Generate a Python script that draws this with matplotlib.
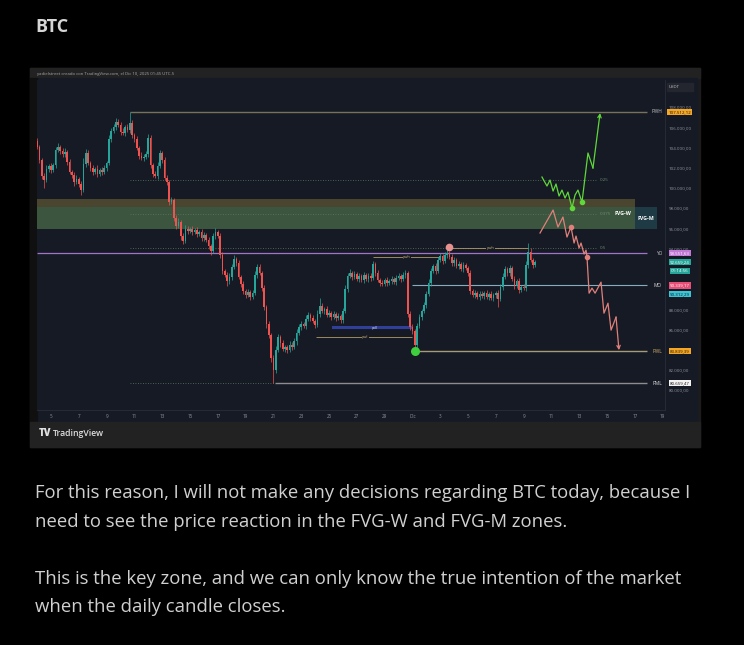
import numpy as np
import matplotlib
matplotlib.use('Agg')
import matplotlib.pyplot as plt
from matplotlib.patches import Rectangle

plt.rcParams['font.family'] = ['Open Sans', 'DejaVu Sans']

# ---- candle data: 4h candles from Nov 4, prices in thousands of USDT ----
first_open = 104.6
closes = [
    104.0, 102.8, 101.2, 100.8, 101.9, 102.2,   # Nov 4
    101.8, 102.3, 103.7, 104.0, 103.6, 103.3,   # Nov 5
    103.5, 102.6, 101.6, 101.3, 100.6, 100.9,   # Nov 6
    100.4, 99.8, 102.4, 103.4, 102.5, 102.0,    # Nov 7
    101.6, 101.9, 101.4, 101.8, 101.6, 102.0,   # Nov 8
    102.5, 104.8, 105.6, 106.0, 106.5, 106.2,   # Nov 9
    105.5, 105.4, 106.0, 105.7, 106.4, 105.2,   # Nov 10
    104.8, 103.9, 103.2, 103.0, 103.1, 103.3,   # Nov 11
    104.9, 102.3, 101.4, 101.2, 102.2, 103.4,   # Nov 12
    102.8, 101.0, 100.6, 98.6, 98.8, 97.0,      # Nov 13
    96.2, 96.6, 95.2, 94.7, 95.9, 95.7,         # Nov 14
    95.9, 95.6, 95.8, 95.4, 95.6, 95.0,         # Nov 15
    95.3, 94.8, 94.2, 93.8, 95.2, 95.6,         # Nov 16
    95.2, 93.4, 91.8, 91.4, 90.8, 91.2,         # Nov 17
    92.2, 93.0, 92.6, 91.2, 90.5, 89.8,         # Nov 18
    89.4, 89.7, 89.2, 89.6, 91.4, 92.2,         # Nov 19
    91.6, 90.1, 88.2, 86.5, 85.4, 83.2,         # Nov 20
    82.0, 84.0, 85.2, 84.6, 84.1, 84.3,         # Nov 21
    84.0, 84.5, 84.3, 84.8, 85.6, 86.2,         # Nov 22
    86.5, 86.3, 87.0, 87.4, 87.1, 86.8,         # Nov 23
    86.4, 87.5, 88.3, 87.8, 88.0, 87.4,         # Nov 24
    87.6, 87.2, 87.5, 87.1, 87.3, 86.9,         # Nov 25
    87.8, 90.0, 91.3, 91.6, 91.2, 91.5,         # Nov 26
    91.0, 91.3, 90.9, 91.4, 91.0, 91.3,         # Nov 27
    91.1, 92.5, 91.6, 90.9, 90.6, 90.5,         # Nov 28
    90.9, 90.6, 90.8, 91.0, 90.7, 91.1,         # Nov 29
    91.3, 91.0, 91.4, 91.6, 87.5, 86.2,         # Nov 30
    85.8, 84.5, 86.3, 87.2, 87.8, 88.4,         # Dec 1
    89.5, 90.6, 91.8, 92.3, 91.8, 92.9,         # Dec 2
    93.3, 92.8, 93.4, 93.6, 93.2, 92.6,         # Dec 3
    92.9, 92.3, 92.5, 92.0, 92.4, 92.1,         # Dec 4
    91.6, 89.8, 89.4, 89.6, 89.2, 89.5,         # Dec 5
    89.3, 89.6, 89.2, 89.5, 89.1, 89.4,         # Dec 6
    89.6, 89.0, 90.2, 91.2, 92.0, 91.6,         # Dec 7
    92.1, 91.0, 90.3, 90.8, 89.9, 90.2,         # Dec 8
    90.1, 92.4, 93.7, 92.9, 92.4, 92.66,        # Dec 9
]
# wicks beyond the body, in hundreds of USDT
wick_up = [
    3, 2, 2, 3, 4, 2,  3, 2, 3, 4, 2, 3,  4, 2, 3, 2, 3, 4,  2, 3, 6, 4, 3, 2,
    3, 2, 4, 2, 3, 3,  2, 4, 3, 3, 4, 3,  3, 4, 2, 3, 11, 3, 2, 3, 2, 3, 2, 3,
    4, 3, 2, 3, 4, 3,  2, 3, 3, 2, 3, 2,  3, 4, 2, 3, 4, 3,  2, 3, 2, 3, 2, 3,
    3, 2, 3, 2, 3, 4,  2, 3, 3, 2, 3, 4,  3, 4, 2, 3, 2, 3,  2, 3, 2, 3, 4, 3,
    3, 2, 3, 2, 3, 2,  3, 4, 3, 2, 3, 2,  2, 3, 2, 3, 4, 3,  3, 2, 4, 3, 2, 3,
    2, 4, 8, 3, 2, 3,  3, 2, 3, 2, 3, 2,  3, 4, 3, 4, 2, 3,  2, 3, 2, 3, 2, 3,
    3, 3, 2, 3, 2, 3,  2, 3, 2, 3, 2, 3,  3, 2, 3, 3, 2, 3,  3, 2, 3, 3, 2, 3,
    3, 4, 3, 2, 3, 3,  3, 2, 3, 5, 2, 3,  3, 2, 3, 2, 3, 2,  2, 3, 2, 3, 2, 3,
    3, 2, 3, 2, 3, 2,  2, 3, 3, 4, 3, 2,  3, 2, 3, 2, 3, 2,  3, 4, 8, 3, 2, 2,
]
wick_dn = [
    2, 3, 3, 8, 2, 3,  3, 2, 3, 2, 3, 2,  2, 3, 2, 3, 4, 2,  3, 5, 2, 3, 2, 3,
    3, 2, 3, 2, 3, 2,  3, 2, 3, 2, 3, 2,  3, 2, 3, 2, 3, 3,  3, 2, 3, 2, 3, 2,
    2, 3, 3, 2, 3, 2,  3, 2, 3, 3, 2, 3,  3, 2, 4, 3, 2, 3,  2, 3, 2, 3, 2, 3,
    3, 2, 3, 4, 2, 3,  2, 3, 3, 2, 5, 3,  3, 2, 3, 2, 3, 3,  3, 2, 3, 2, 2, 3,
    2, 3, 3, 4, 3, 4,  13, 3, 2, 3, 2, 3, 3, 2, 3, 2, 3, 2,  3, 2, 3, 2, 3, 2,
    3, 2, 3, 2, 3, 2,  2, 3, 2, 3, 2, 3,  3, 2, 3, 2, 3, 2,  2, 3, 2, 3, 2, 3,
    3, 2, 3, 2, 3, 2,  2, 3, 2, 3, 2, 3,  2, 3, 2, 3, 3, 3,  3, 6, 3, 2, 3, 2,
    3, 2, 3, 2, 3, 2,  2, 3, 2, 3, 2, 3,  3, 2, 3, 2, 3, 2,  3, 3, 2, 3, 2, 3,
    2, 3, 2, 3, 2, 3,  3, 8, 2, 3, 2, 3,  3, 2, 3, 2, 3, 2,  2, 3, 3, 2, 3, 2,
]

# axis ticks (x in days after Nov 5)
time_ticks = list(range(0, 45, 2))
time_labels = ['5', '7', '9', '11', '13', '15', '17', '19', '21', '23', '25', '27',
               '29', 'Dic', '3', '5', '7', '9', '11', '13', '15', '17', '19']
price_ticks = list(range(80, 110, 2))
covered_ticks = [84, 90, 92]   # hidden behind the level tags on the price scale

# key levels (thousands)
pwh = 107.51212
yo = 93.55163
mo = 90.33917
mo_alt = 90.31229
pwl = 83.83939
pml = 80.65947
last_price = 92.65924
countdown = '01:14:56'
fib_levels = [0.25, 0.375, 0.5]
fvg_w = (95.9, 98.9)
fvg_m = (95.9, 98.1)

# projected scenarios drawn on the chart
bull_days = [35.32, 35.68, 35.90, 36.12, 36.33, 36.55, 36.76, 36.98, 37.19, 37.48,
             37.70, 37.91, 38.20, 38.63, 38.99, 39.50]
bull_prices = [101.07, 100.18, 100.77, 99.68, 100.38, 99.19, 99.78, 98.99, 99.58, 98.00,
               99.29, 99.78, 98.59, 103.45, 101.96, 107.4]
bear_days = [35.18, 36.12, 36.47, 36.83, 37.12, 37.41, 37.63, 37.77, 37.99, 38.13, 38.35,
             38.49, 38.56, 38.71, 38.92, 39.14, 39.57, 39.78, 40.07, 40.29, 40.65, 40.86]
bear_prices = [95.53, 97.80, 96.12, 97.11, 95.13, 96.12, 94.54, 95.23, 94.04, 94.54, 93.45,
               93.84, 93.15, 89.58, 90.08, 89.58, 90.67, 87.60, 88.59, 85.92, 87.21, 83.94]

paragraphs = [
    'For this reason, I will not make any decisions regarding BTC today, because I',
    'need to see the price reaction in the FVG-W and FVG-M zones.',
    'This is the key zone, and we can only know the true intention of the market',
    'when the daily candle closes.',
]
para_y = [493, 522, 579, 607]


def fmt(v):
    s = f'{v * 1000:,.2f}'
    return s.replace(',', ' ').replace('.', ',').replace(' ', '.')


BG = '#161a25'
UP, DOWN = '#26a69a', '#ef5350'

fig = plt.figure(figsize=(7.44, 6.45), dpi=100, facecolor='black')

# page layer in pixel coordinates
page = fig.add_axes([0, 0, 1, 1], zorder=0)
page.set_xlim(0, 744)
page.set_ylim(645, 0)
page.axis('off')
page.add_patch(Rectangle((30, 68), 670, 379, color='#1c1c1c'))
page.add_patch(Rectangle((30, 68), 670, 10, color='#222222'))
page.add_patch(Rectangle((37, 78), 660, 344, color=BG))
page.add_patch(Rectangle((30, 78), 7, 344, color='#101010'))
page.add_patch(Rectangle((30, 422), 670, 25, color='#222222'))

page.text(35, 27, 'BTC', fontsize=13, fontweight='bold', color='#d6d6d6', va='center')
for s, y in zip(paragraphs, para_y):
    page.text(35, y, s, fontsize=13.3, color='#d0d0d0', va='center')

page.text(37, 73.5, 'yadielstreet creado con TradingView.com, el Dic 10, 2025 01:45 UTC-5',
          fontsize=3.1, color='#a8a8a8', va='center')
page.text(41, 86, 'BTCUSDT · 4h · Coinbase', fontsize=3.2, color='#8a8f9a', va='center')
page.text(188, 94, 'BTC - 4H', fontsize=9.5, fontweight='bold', color='#ececec',
          ha='center', va='center')
page.add_patch(Rectangle((667, 83), 26, 8, color='#23262f'))
page.text(669, 87, 'USDT', fontsize=3.2, color='#c0c0c0', va='center')
page.text(39, 434, 'TV', fontsize=7, fontweight='heavy', color='#e0e0e0', va='center')
page.text(53, 434, 'TradingView', fontsize=6.2, fontweight='semibold', color='#e0e0e0',
          va='center')

# chart pane
L, R, T, B = 37.1, 665.4, 80, 410
ax = fig.add_axes([L / 744, 1 - B / 645, (R - L) / 744, (B - T) / 645], zorder=1)
ax.set_facecolor(BG)
ax.set_xlim(-1.0, 44.2)
ax.set_ylim(78.02, 110.67)
for side in ['top', 'left']:
    ax.spines[side].set_visible(False)
for side in ['bottom', 'right']:
    ax.spines[side].set_color('#2a2e39')
    ax.spines[side].set_linewidth(0.6)
ax.yaxis.tick_right()
ax.set_yticks(price_ticks)
ax.set_yticklabels(['' if p in covered_ticks else fmt(p) for p in price_ticks])
ax.set_xticks(time_ticks)
ax.set_xticklabels(time_labels)
ax.tick_params(axis='y', length=0, pad=2.5, labelsize=3.2, labelcolor='#8f939c')
ax.tick_params(axis='x', length=0, pad=3.0, labelsize=3.3, labelcolor='#8f939c')

# FVG zones
ax.add_patch(Rectangle((-1.0, fvg_w[0]), 43.0, fvg_w[1] - fvg_w[0], color='#6d6237',
                       alpha=0.6, lw=0, zorder=1))
ax.add_patch(Rectangle((-1.0, fvg_m[0]), 43.0, fvg_m[1] - fvg_m[0], color='#306550',
                       alpha=0.5, lw=0, zorder=1))
ax.add_patch(Rectangle((42.0, fvg_m[0]), 1.6, fvg_m[1] - fvg_m[0], color='#1e3a44',
                       lw=0, zorder=1))
ax.text(42.8, (fvg_m[0] + fvg_m[1]) / 2, 'FVG-M', fontsize=3.8, fontweight='bold',
        color='white', ha='center', va='center', zorder=5)

# fibonacci levels from the PWH swing to PML
fib_start, fib_end = 5.68, 39.3
for lev in fib_levels:
    p = pwh - lev * (pwh - pml)
    ax.hlines(p, fib_start, fib_end, color='#5f7a5f', lw=0.6, linestyles=(0, (1, 2)), zorder=2)
    ax.text(fib_end + 0.2, p, f'{lev:g}', fontsize=3.2, color='#6f8f6f', va='center', zorder=5)
ax.hlines(pml, fib_start, 16.1, color='#5f7a5f', lw=0.6, linestyles=(0, (1, 2)), zorder=2)
ax.text(40.55, pwh - 0.375 * (pwh - pml), 'FVG-W', fontsize=3.8, fontweight='bold',
        color='white', va='center', zorder=5)

# key level lines
line_end = 42.9
ax.hlines(pwh, 5.68, line_end, color='#77735a', lw=1.0, zorder=2)
ax.hlines(yo, -1.0, line_end, color='#a273c9', lw=0.9, zorder=2)
ax.hlines(mo, 26.0, line_end, color='#86adbd', lw=0.8, zorder=2)
ax.hlines(pwl, 26.2, line_end, color='#a89a78', lw=1.0, zorder=2)
ax.hlines(pml, 16.1, line_end, color='#8d8d8d', lw=1.0, zorder=2)
for p, name, col in [(pwh, 'PWH', '#c9c9c9'), (yo, 'YO', '#c9c9c9'), (mo, 'MO', '#dddddd'),
                     (pwl, 'PWL', '#d6b56a'), (pml, 'PML', '#e6e6e6')]:
    ax.text(43.95, p, name, fontsize=3.4, color=col, ha='right', va='center', zorder=5)

# swing markings
ax.hlines(93.15, 23.17, 28.0, color='#b39a66', lw=0.6, zorder=2)
ax.text(25.6, 93.15, 'pwh', fontsize=2.8, color='#c9ad74', ha='center', va='center', zorder=5,
        bbox=dict(boxstyle='square,pad=0.1', fc=BG, ec='none'))
ax.hlines(94.04, 28.6, 34.3, color='#b39a66', lw=0.6, zorder=2)
ax.text(31.6, 94.04, 'pwh', fontsize=2.8, color='#c9ad74', ha='center', va='center', zorder=5,
        bbox=dict(boxstyle='square,pad=0.1', fc=BG, ec='none'))
ax.hlines(85.23, 19.1, 26.0, color='#b39a66', lw=0.6, zorder=2)
ax.text(22.6, 85.23, 'pwl', fontsize=2.8, color='#c9ad74', ha='center', va='center', zorder=5,
        bbox=dict(boxstyle='square,pad=0.1', fc=BG, ec='none'))
ax.add_patch(Rectangle((20.2, 86.0), 5.8, 0.32, color='#2f3f9a', lw=0, zorder=2))
ax.text(23.3, 86.16, 'pdl', fontsize=2.8, color='#d8d8e8', ha='center', va='center', zorder=5)

# candles
c = np.array(closes)
o = np.r_[first_open, c[:-1]]
hi = np.maximum(o, c) + np.array(wick_up) / 10
lo = np.minimum(o, c) - np.array(wick_dn) / 10
x = -1 + np.arange(len(c)) / 6
cols = [UP if cc >= oo else DOWN for oo, cc in zip(o, c)]
ax.vlines(x, lo, hi, colors=cols, lw=0.5, zorder=3)
ax.bar(x, np.clip(np.abs(c - o), 0.08, None), bottom=np.minimum(o, c), width=0.12,
       color=cols, lw=0, zorder=3)

# markers
ax.plot(28.6, 94.1, 'o', ms=5.5, color='#e8928f', mec='none', zorder=4)
ax.plot(26.2, pwl, 'o', ms=6.5, color='#3ecf3e', mec='none', zorder=4)

# scenario paths
ax.plot(bull_days[:-1], bull_prices[:-1], color='#5fd83a', lw=0.9, zorder=4)
ax.annotate('', xy=(bull_days[-1], bull_prices[-1]), xytext=(bull_days[-2], bull_prices[-2]),
            arrowprops=dict(arrowstyle='->', color='#5fd83a', lw=0.9, mutation_scale=6,
                            shrinkA=0, shrinkB=0), zorder=4)
ax.plot([bull_days[9], bull_days[12]], [bull_prices[9], bull_prices[12]], 'o', ms=3,
        color='#5fd83a', zorder=4)
ax.plot(bear_days[:-1], bear_prices[:-1], color='#e0807a', lw=0.9, zorder=4)
ax.annotate('', xy=(bear_days[-1], bear_prices[-1]), xytext=(bear_days[-2], bear_prices[-2]),
            arrowprops=dict(arrowstyle='->', color='#e0807a', lw=0.9, mutation_scale=6,
                            shrinkA=0, shrinkB=0), zorder=4)
ax.plot([bear_days[5], bear_days[12]], [bear_prices[5], bear_prices[12]], 'o', ms=3,
        color='#e0807a', zorder=4)


# price axis tags
def price_tag(p, txt, fc, tc='white'):
    ax.text(1.023, p, txt, transform=ax.get_yaxis_transform(), ha='center', va='center',
            fontsize=3.2, color=tc, clip_on=False, zorder=6,
            bbox=dict(boxstyle='square,pad=0.25', fc=fc, ec='none'))


price_tag(pwh, fmt(pwh), '#f5a623', '#1a1a1a')
price_tag(yo, fmt(yo), '#c07ad6')
price_tag(last_price, fmt(last_price), '#26a69a')
price_tag(last_price - 0.85, countdown, '#26a69a')
price_tag(mo, fmt(mo), '#e84f78')
price_tag(mo_alt - 0.78, fmt(mo_alt), '#3bc4d4', '#10202a')
price_tag(pwl, fmt(pwl), '#f5a623', '#1a1a1a')
price_tag(pml, fmt(pml), '#f2f2f2', '#1a1a1a')

fig.savefig('out.png', dpi=100, facecolor='black')
